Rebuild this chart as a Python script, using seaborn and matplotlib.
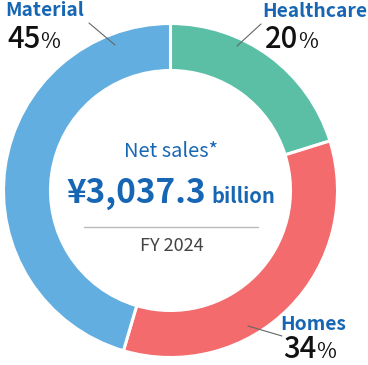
import matplotlib
matplotlib.use("Agg")
import matplotlib.pyplot as plt
import seaborn as sns

segments = ["Healthcare", "Homes", "Material"]
shares = [20, 34, 45]
colors = ["#5bbfa6", "#f36b6c", "#63aee0"]
pct_labels = ["20", "34", "45"]
total_text = "¥3,037.3"
unit_text = "billion"
title_text = "Net sales*"
year_text = "FY 2024"

sns.set_theme(style="white")
plt.rcParams['font.family'] = ['Noto Sans CJK JP', 'DejaVu Sans']

fig = plt.figure(figsize=(3.68, 3.65), dpi=100)
ax = fig.add_axes([0, 0, 1, 1])

cx, cy, R, W = 170.5, 190.5, 167, 47
ax.pie(shares, colors=colors, startangle=-90, counterclock=True,
       radius=R, center=(cx, cy), normalize=True,
       wedgeprops=dict(width=W, edgecolor="white", linewidth=2.2))
ax.set_xlim(0, 368)
ax.set_ylim(365, 0)
ax.set_aspect("equal")
ax.axis("off")

blue = "#1766b4"
# center text
ax.text(171, 157, title_text, color=blue, fontsize=14.5, ha="center", va="baseline")
ax.text(66, 203, total_text, color=blue, fontsize=24, fontweight="bold", ha="left", va="baseline")
ax.text(211, 203, unit_text, color=blue, fontsize=14.5, fontweight="bold", ha="left", va="baseline")
ax.plot([84, 258], [227, 227], color="#bbbbbb", lw=1)
ax.text(172, 251, year_text, color="#444444", fontsize=13, ha="center", va="baseline")

# labels
label_pos = {
    "Healthcare": ((262, 17), (265, 48), [(261, 24), (237, 46)]),
    "Homes": ((280, 330), (283, 358), [(248, 326), (282, 336)]),
    "Material": ((5, 16), (7, 48), [(89, 23), (115, 45)]),
}
for name, pct in zip(segments, pct_labels):
    (lx, ly), (px, py), line = label_pos[name]
    ax.text(lx, ly, name, color=blue, fontsize=13.9, fontweight="bold", ha="left", va="baseline")
    ax.text(px, py, pct, color="#111111", fontsize=21, fontweight="medium", ha="left", va="baseline")
    ax.text(px + 33, py, "%", color="#111111", fontsize=15.5, ha="left", va="baseline")
    ax.plot([line[0][0], line[1][0]], [line[0][1], line[1][1]], color="#666666", lw=0.8)

fig.savefig("out.png", dpi=100)
